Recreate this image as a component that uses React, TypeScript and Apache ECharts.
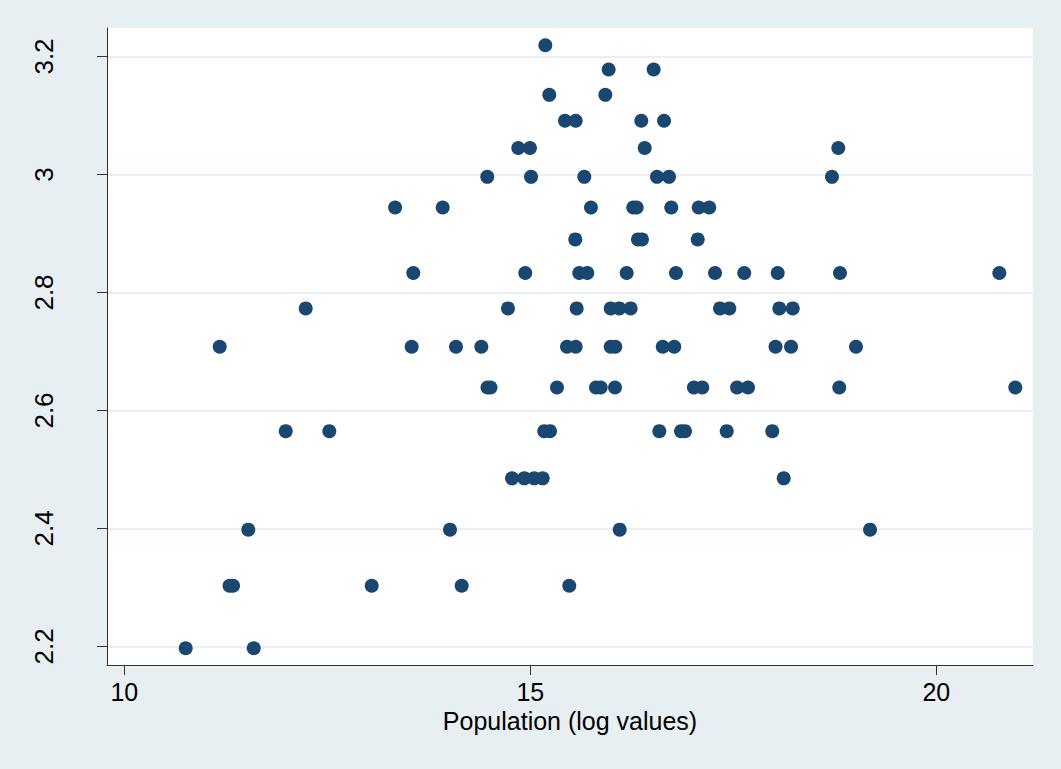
import React, { useEffect, useRef } from "react";
import * as echarts from "echarts";

// y levels (log values) and the x positions (Population, log values) of the points at each level
const yLevels = [3.219, 3.178, 3.135, 3.091, 3.045, 2.996, 2.944, 2.890, 2.833, 2.773, 2.708, 2.639, 2.565, 2.485, 2.398, 2.303, 2.197];
const xByLevel = [
  [15.185],
  [15.965, 16.519],
  [15.234, 15.924],
  [15.427, 15.559, 16.367, 16.647],
  [14.852, 14.996, 16.409, 18.793],
  [14.47, 15.009, 15.665, 16.56, 16.708, 18.715],
  [13.335, 13.921, 15.747, 16.268, 16.31, 16.736, 17.074, 17.204],
  [15.554, 16.326, 16.375, 17.062],
  [13.559, 14.938, 15.603, 15.702, 16.187, 16.794, 17.275, 17.635, 18.047, 18.814, 20.776],
  [12.234, 14.725, 15.571, 15.99, 16.096, 16.236, 17.336, 17.451, 18.067, 18.232],
  [11.175, 13.539, 14.085, 14.397, 15.452, 15.559, 15.99, 16.047, 16.631, 16.773, 18.02, 18.211, 19.011],
  [14.473, 14.51, 15.329, 15.809, 15.867, 16.043, 17.015, 17.118, 17.546, 17.681, 18.805, 20.973],
  [11.988, 12.525, 15.172, 15.243, 16.589, 16.856, 16.905, 17.419, 17.98],
  [14.775, 14.926, 15.049, 15.153, 18.121],
  [11.527, 14.011, 16.101, 19.184],
  [11.296, 11.339, 13.047, 14.155, 15.48],
  [10.756, 11.594],
];

const xTicks = [10, 15, 20];
const yTicks = [2.2, 2.4, 2.6, 2.8, 3, 3.2];
const xTitle = "Population (log values)";

const FONT = "'Liberation Sans', Arial, Helvetica, sans-serif";
const BG = "#E8EFF2";

export default function App() {
  const ref = useRef<HTMLDivElement>(null);

  useEffect(() => {
    document.body.style.margin = "0";
    if (!ref.current) return;
    const chart = echarts.init(ref.current, null, { renderer: "svg" });

    const points: number[][] = [];
    yLevels.forEach((y, i) => {
      xByLevel[i].forEach((x) => points.push([x, y]));
    });

    chart.setOption({
      animation: false,
      backgroundColor: BG,
      textStyle: { fontFamily: FONT },
      grid: {
        left: 107,
        right: 28,
        top: 28,
        bottom: 104,
        show: true,
        backgroundColor: "#ffffff",
        borderWidth: 0,
        containLabel: false,
      },
      xAxis: {
        type: "value",
        min: 9.787,
        max: 21.191,
        name: xTitle,
        nameLocation: "middle",
        nameGap: 44,
        nameMoveOverlap: false,
        nameTextStyle: { fontSize: 25, lineHeight: 24, color: "#000", fontFamily: FONT },
        axisLine: { show: true, onZero: false, lineStyle: { color: "#333", width: 1 } },
        axisTick: { show: true, length: 10, customValues: xTicks, lineStyle: { color: "#333", width: 1 } },
        axisLabel: { customValues: xTicks, fontSize: 25, lineHeight: 24, color: "#000", margin: 15, fontFamily: FONT },
        splitLine: { show: false },
      },
      yAxis: {
        type: "value",
        min: 2.1686,
        max: 3.2483,
        axisLine: { show: true, onZero: false, lineStyle: { color: "#333", width: 1 } },
        axisTick: { show: true, length: 10, customValues: yTicks, lineStyle: { color: "#333", width: 1 } },
        axisLabel: {
          customValues: yTicks,
          rotate: 90,
          fontSize: 26,
          color: "#000",
          margin: 50,
          fontFamily: FONT,
          formatter: (v: number) => String(Math.round(v * 10) / 10),
        },
        splitLine: { show: true, lineStyle: { color: "#E8F0F2", width: 2 } },
      },
      series: [
        {
          type: "scatter",
          data: points,
          symbol: "circle",
          symbolSize: 14,
          itemStyle: { color: "#1A476F", opacity: 1 },
          silent: true,
        },
      ],
    });

    return () => chart.dispose();
  }, []);

  return <div ref={ref} style={{ width: 1061, height: 769, background: BG }} />;
}
